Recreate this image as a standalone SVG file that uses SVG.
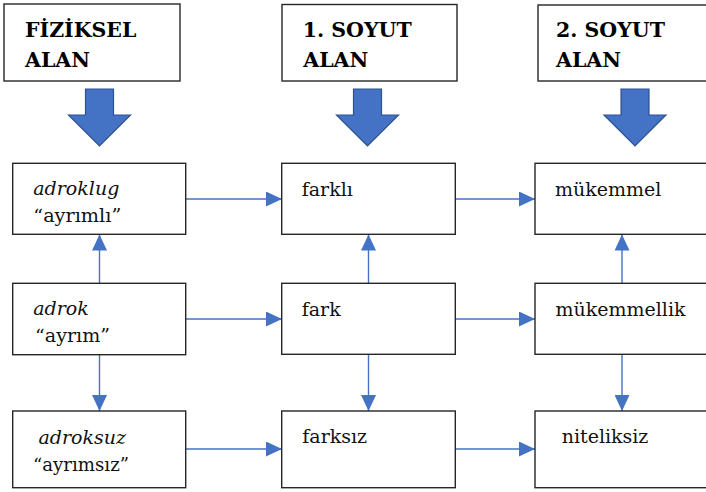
<svg xmlns="http://www.w3.org/2000/svg" xmlns:xlink="http://www.w3.org/1999/xlink" width="706" height="492" viewBox="0 0 706 492">
  <style>
    .box { fill: #ffffff; stroke: #262626; stroke-width: 1.4; }
    .hdr { font-weight: bold; font-size: 20.5px; fill: #000; }
    .lbl { font-size: 19px; fill: #111; }
    .it { font-style: italic; }
    .conn { stroke: #4472C4; stroke-width: 1.4; fill: none; marker-end: url(#tri); }
  </style>
  <defs>
    <marker id="tri" viewBox="0 0 16 15" refX="16" refY="7.5" markerWidth="16" markerHeight="15" markerUnits="userSpaceOnUse" orient="auto">
      <path d="M0,0 L16,7.5 L0,15 Z" fill="#4472C4"/>
    </marker>
    <!-- wide downward block arrow, centred on x=0 -->
    <path id="bigArrow" d="M-14,89 L14,89 L14,115 L31,115 L0,146 L-31,115 L-14,115 Z" fill="#4472C4" stroke="#2F528F" stroke-width="1.2" stroke-linejoin="miter"/>
  </defs>

  <rect width="706" height="492" fill="#ffffff"/>

  <g font-family="'DejaVu Serif', 'Noto Serif', 'Liberation Serif', serif">
  <!-- column headers -->
  <g id="hdr-fiziksel">
    <rect class="box" x="4" y="4" width="176" height="77"/>
    <text class="hdr" x="25" y="36.7">FİZİKSEL</text>
    <text class="hdr" x="25" y="66.7">ALAN</text>
  </g>
  <g id="hdr-soyut1">
    <rect class="box" x="282" y="4.5" width="175" height="76.5"/>
    <text class="hdr" x="302.7" y="36.7">1. SOYUT</text>
    <text class="hdr" x="303.3" y="66.7">ALAN</text>
  </g>
  <g id="hdr-soyut2">
    <rect class="box" x="538" y="5" width="176" height="76"/>
    <text class="hdr" x="556" y="36.7">2. SOYUT</text>
    <text class="hdr" x="556" y="66.7">ALAN</text>
  </g>

  <!-- block arrows under the headers -->
  <g id="block-arrows">
    <use xlink:href="#bigArrow" transform="translate(99.5,0)"/>
    <use xlink:href="#bigArrow" transform="translate(367.5,0)"/>
    <use xlink:href="#bigArrow" transform="translate(635,0)"/>
  </g>

  <!-- connectors -->
  <g id="connectors">
    <line class="conn" x1="186" y1="199" x2="282" y2="199"/>
    <line class="conn" x1="186" y1="319" x2="282" y2="319"/>
    <line class="conn" x1="186" y1="449" x2="282" y2="449"/>
    <line class="conn" x1="455" y1="199" x2="535" y2="199"/>
    <line class="conn" x1="455" y1="319" x2="535" y2="319"/>
    <line class="conn" x1="455" y1="449" x2="535" y2="449"/>
    <line class="conn" x1="99.5" y1="283" x2="99.5" y2="234.5"/>
    <line class="conn" x1="99.5" y1="355" x2="99.5" y2="411"/>
    <line class="conn" x1="368.5" y1="283" x2="368.5" y2="234.5"/>
    <line class="conn" x1="368.5" y1="355" x2="368.5" y2="411"/>
    <line class="conn" x1="622" y1="283" x2="622" y2="234.5"/>
    <line class="conn" x1="622" y1="355" x2="622" y2="411"/>
  </g>

  <!-- physical field column -->
  <g id="n-adroklug">
    <rect class="box" x="12.7" y="163.3" width="173" height="71"/>
    <text class="lbl it" x="33.3" y="195.3">adroklug</text>
    <text class="lbl" x="33.3" y="222.3" textLength="88" lengthAdjust="spacingAndGlyphs">“ayrımlı”</text>
  </g>
  <g id="n-adrok">
    <rect class="box" x="12.7" y="283.3" width="173" height="71.4"/>
    <text class="lbl it" x="33.3" y="315.3">adrok</text>
    <text class="lbl" x="35" y="342.3" textLength="75" lengthAdjust="spacingAndGlyphs">“ayrım”</text>
  </g>
  <g id="n-adroksuz">
    <rect class="box" x="12.7" y="411" width="173" height="76.7"/>
    <text class="lbl it" x="38.5" y="443.5">adroksuz</text>
    <text class="lbl" x="33" y="471.3" textLength="96" lengthAdjust="spacingAndGlyphs">“ayrımsız”</text>
  </g>

  <!-- first abstract field column -->
  <g id="n-farkli">
    <rect class="box" x="281.7" y="163.3" width="173.6" height="71"/>
    <text class="lbl" x="301.7" y="195.7">farklı</text>
  </g>
  <g id="n-fark">
    <rect class="box" x="281.7" y="283.3" width="173.6" height="71"/>
    <text class="lbl" x="301.7" y="315.7">fark</text>
  </g>
  <g id="n-farksiz">
    <rect class="box" x="281.7" y="411" width="173.6" height="76.7"/>
    <text class="lbl" x="302.3" y="443.3">farksız</text>
  </g>

  <!-- second abstract field column -->
  <g id="n-mukemmel">
    <rect class="box" x="535" y="163.3" width="174" height="71"/>
    <text class="lbl" x="555" y="195.7">mükemmel</text>
  </g>
  <g id="n-mukemmellik">
    <rect class="box" x="535" y="283.3" width="174" height="71"/>
    <text class="lbl" x="555.5" y="315.7">mükemmellik</text>
  </g>
  <g id="n-niteliksiz">
    <rect class="box" x="535" y="411" width="174" height="76.7"/>
    <text class="lbl" x="561.7" y="443.3">niteliksiz</text>
  </g>
  </g>
</svg>
